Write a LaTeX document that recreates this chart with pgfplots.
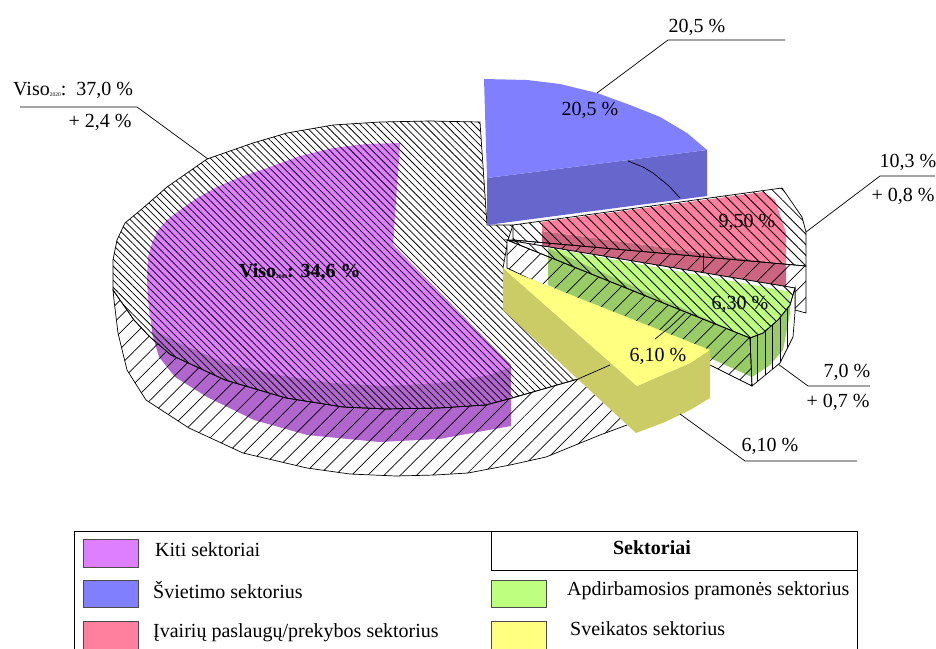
\documentclass[border=0pt]{standalone}
\usepackage{pgfplots}
\pgfplotsset{compat=1.18}
\usepackage{fontspec}
\setmainfont{Liberation Serif}
\usetikzlibrary{patterns.meta}
\definecolor{puT}{HTML}{DD7FFF}\definecolor{puS}{HTML}{B066CC}
\definecolor{blT}{HTML}{8080FF}\definecolor{blS}{HTML}{6666CC}
\definecolor{reT}{HTML}{FF7F9F}\definecolor{reS}{HTML}{CC6680}
\definecolor{grT}{HTML}{BFFF80}\definecolor{grS}{HTML}{99CC66}
\definecolor{yeT}{HTML}{FFFF80}\definecolor{yeS}{HTML}{CCCC66}
\tikzset{
 hA/.style={pattern={Lines[angle=-45,distance=5pt,line width=.75pt]},pattern color=black},
 hC/.style={pattern={Lines[angle=-45,distance=7.5pt,line width=.85pt]},pattern color=black},
 hB/.style={pattern={Lines[angle=45,distance=11.5pt,line width=.7pt]},pattern color=black},
 hV/.style={pattern={Lines[angle=90,distance=7.5pt,line width=.8pt]},pattern color=black},
 ln/.style={draw=black,line width=.7pt},
 lb/.style={font=\fontsize{20}{22}\selectfont,inner sep=0pt},
 pt/.style={draw=black!70,line width=.8pt}
}
\newcommand{\sub}[1]{\raisebox{-1pt}{\fontsize{5.5}{5.5}\selectfont #1}}
\begin{document}
\begin{tikzpicture}
\begin{axis}[scale only axis,width=936pt,height=648pt,xmin=0,xmax=936,ymin=0,ymax=648,y dir=reverse,hide axis,clip=true]
\addplot[draw=none] coordinates {(0,0)(936,648)};
% Kiti: fill
\addplot[fill=puS,draw=none] coordinates {(150,300)(152,333)(159,357)(175,377)(207,397)(254,420)(307,435)(379,442)(439,439)(511,426)(511,365)(393,245)} --cycle;
\addplot[fill=puT,draw=none] coordinates {(400,143)(365,144)(333,148)(300,156)(267,168)(240,177)(217,187)(197,198)(180,210)(167,220)(158,230)(152,243)(148,257)(147,280)(148,300)(150,318)(154,330)(179,343)(225,363)(279,375)(332,383)(386,386)(439,383)(489,375)(511,367)(393,245)} --cycle;
% Viso 2020 top and side
\addplot[hA,ln] coordinates {(113,290)(113,260)(117,240)(125,223)(143,208)(167,187)(207,159)(253,143)(287,133)(333,125)(380,122)(430,121)(480,122)(487,225)(513,225)(508,240)(503,268)(578,379)(512,398)(486,405)(439,408)(386,409)(343,407)(286,398)(225,380)(171,355)(150,337)(134,320)} --cycle;
\addplot[hB,ln] coordinates {(113,290)(114,300)(118,333)(127,370)(146,400)(189,428)(243,453)(307,468)(350,474)(396,476)(435,475)(468,473)(510,465)(546,457)(600,435)(627,425)(640,400)(578,379)(512,398)(486,405)(439,408)(386,409)(343,407)(286,398)(225,380)(171,355)(150,337)(134,320)} --cycle;
% red outer white base
\addplot[fill=white,draw=none] coordinates {(513,225)(782,188)(802,217)(806,232)(806,313)(795,310)(795,288)(507,240)(513,240)} --cycle;
\addplot[fill=reS,draw=none] coordinates {(542,231)(786,264)(786,290)(548,270)(542,270)} --cycle;
\addplot[fill=reT,draw=none] coordinates {(542,222)(763,192)(775,200)(786,233)(786,264)(542,231)} --cycle;
\addplot[hC,ln] coordinates {(513,225)(782,188)(802,217)(806,232)(806,266)(513,240)} --cycle;
\addplot[hB,ln] coordinates {(513,240)(806,266)(806,313)(795,310)(795,288)(507,240)} --cycle;
\addplot[ln] coordinates {(703,253)(703,272)};
% green outer white base
\addplot[fill=white,draw=none] coordinates {(507,240)(795,288)(795,312)(793,337)(780,363)(752,386)(712,366)(507,268)} --cycle;
\addplot[fill=grS,draw=none] coordinates {(548,248)(548,285)(752,377)(770,365)(783,350)(790,313)(790,292)} --cycle;
\addplot[fill=grT,draw=none] coordinates {(548,248)(790,292)(790,305)(778,320)(763,333)(750,338)} --cycle;
\addplot[hC,ln] coordinates {(507,240)(795,288)(790,305)(778,320)(763,333)(750,338)} --cycle;
\addplot[hB,ln] coordinates {(507,240)(750,338)(752,386)(712,366)(507,268)} --cycle;
\addplot[hV,ln] coordinates {(750,338)(763,333)(778,320)(790,305)(795,288)(795,312)(793,337)(780,363)(752,386)} --cycle;
% blue
\addplot[fill=blS,draw=none] coordinates {(487,178)(707,150)(707,196)(487,225)} --cycle;
\addplot[fill=blT,draw=none] coordinates {(484,79)(527,80)(560,84)(597,93)(630,105)(660,117)(687,133)(707,150)(487,178)} --cycle;
% yellow
\addplot[fill=yeS,draw=none] coordinates {(503,268)(503,310)(636,433)(665,422)(690,410)(710,398)(710,350)(690,363)(637,386)} --cycle;
\addplot[fill=yeT,draw=none] coordinates {(503,268)(710,350)(690,363)(637,386)} --cycle;
% rim of the 2020 pie seen through the slices
\addplot[ln] coordinates {(628,161)(643,167)(653,173)(669,186)(680,198)};
\addplot[ln] coordinates {(578,379)(610,365)};
\addplot[ln] coordinates {(655,339)(670,327)(685,313)};
% leaders
\addplot[ln] coordinates {(785,40)(668,40)(597,93)};
\addplot[ln] coordinates {(806,232)(880,176)(935,176)};
\addplot[ln] coordinates {(778,364)(808,386)(870,386)};
\addplot[ln] coordinates {(680,414)(745,461)(857,461)};
\addplot[ln] coordinates {(20,107)(137,107)(208,159)};
% legend frame
\addplot[draw=black,line width=.7pt] coordinates {(74,650)(74,531)(857,531)(857,570)(491,570)(491,531)};
\addplot[draw=black,line width=.7pt] coordinates {(857,570)(857,650)};
\addplot[fill=puT,pt] coordinates {(83,539)(138,539)(138,567)(83,567)} --cycle;
\addplot[fill=blT,pt] coordinates {(83,580)(138,580)(138,607)(83,607)} --cycle;
\addplot[fill=reT,pt] coordinates {(83,621)(138,621)(138,649)(83,649)} --cycle;
\addplot[fill=grT,pt] coordinates {(491,580)(546,580)(546,607)(491,607)} --cycle;
\addplot[fill=yeT,pt] coordinates {(491,621)(546,621)(546,649)(491,649)} --cycle;
% text
\node[lb] at (axis cs:697,27) {20,5 \%};
\node[lb] at (axis cs:590,110) {20,5 \%};
\node[lb] at (axis cs:908,162) {10,3 \%};
\node[lb] at (axis cs:903,196) {+ 0,8 \%};
\node[lb] at (axis cs:747,222) {9,50 \%};
\node[lb] at (axis cs:740,304) {6,30 \%};
\node[lb] at (axis cs:658,356) {6,10 \%};
\node[lb] at (axis cs:847,372) {7,0 \%};
\node[lb] at (axis cs:838,402) {+ 0,7 \%};
\node[lb] at (axis cs:770,446) {6,10 \%};
\node[lb,anchor=west] at (axis cs:13,90) {Viso\sub{2020}:\ \ 37,0 \%};
\node[lb] at (axis cs:100,122) {+ 2,4 \%};
\node[lb,anchor=west,font=\fontsize{20}{22}\selectfont\bfseries] at (axis cs:239,272) {Viso\sub{2008}: 34,6 \%};
\node[lb,anchor=west] at (axis cs:155,550) {Kiti sektoriai};
\node[lb,anchor=west] at (axis cs:153,590) {Švietimo sektorius};
\node[lb,anchor=west] at (axis cs:153,633) {Įvairių paslaugų/prekybos sektorius};
\node[lb,font=\fontsize{20}{22}\selectfont\bfseries] at (axis cs:652,548) {Sektoriai};
\node[lb,anchor=west] at (axis cs:567,591) {Apdirbamosios pramonės sektorius};
\node[lb,anchor=west] at (axis cs:570,629) {Sveikatos sektorius};
\end{axis}
\end{tikzpicture}
\end{document}
